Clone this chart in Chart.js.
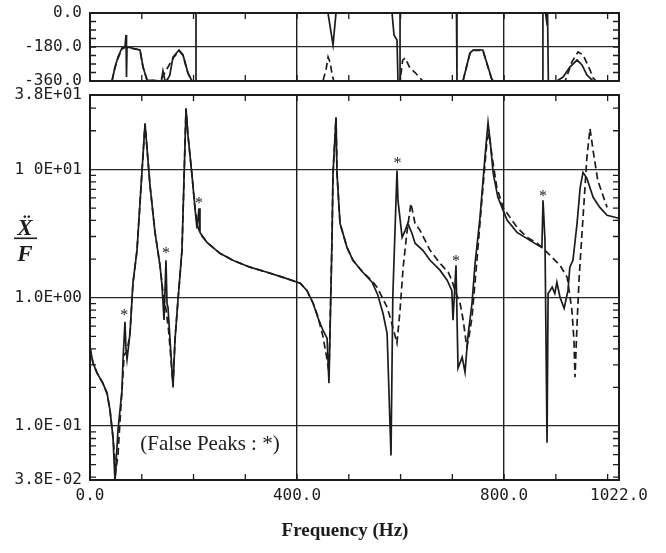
<!DOCTYPE html>
<html>
<head>
<meta charset="utf-8">
<script src="https://cdn.jsdelivr.net/npm/chart.js@4.4.0/dist/chart.umd.min.js"></script>
<style>
  html, body { margin: 0; padding: 0; background: #fff; }
  #wrap { position: relative; width: 666px; height: 553px; }
  canvas { position: absolute; left: 0; top: 0; }
</style>
</head>
<body>
<div id="wrap">
  <canvas id="magChart" width="666" height="553"></canvas>
  <canvas id="phaseChart" width="666" height="92"></canvas>
</div>
<script>
// --- Données ---
// Module (solide = mesure, tirets = recalage)
const magHz = [0, 5.8, 13.5, 25, 33, 38.6, 44.4, 48.3, 54.1, 61.8, 63.8, 67.6, 69.5, 71.5, 77.3, 83, 90.8, 106.3, 115.9, 125.6,
  135.2, 139.1, 143, 146.8, 148.8, 150.7, 160.4, 164.2, 170, 177.7, 185.5, 189.3, 197.1, 202.9, 206.7, 210.6, 212.5, 226, 251, 276,
  309, 342, 373, 406, 419, 431, 440, 450, 458, 461.7, 467.5, 469.5, 475.3, 477.2, 483, 496.5, 508, 527, 545, 556,
  566, 574, 581.5, 585, 593.1, 595, 603, 609, 614, 622, 628, 643, 657, 676, 690, 699, 701.3, 707.1, 711, 719,
  724.5, 730, 738, 744, 753.5, 763, 769, 773, 779, 788, 806, 825, 850, 865.5, 873, 875.2, 879, 883, 885, 893,
  898, 902, 908, 916, 923.5, 927, 933, 941, 947, 952.5, 960, 972, 985, 999, 1022];
const magSolid = [0.41, 0.31, 0.26, 0.215, 0.18, 0.133, 0.082, 0.037, 0.093, 0.19, 0.33, 0.65, 0.4, 0.33, 0.53, 1.3, 2.34, 22.8, 7.5, 3.23,
  1.79, 1.25, 0.67, 1.96, 0.9, 0.84, 0.2, 0.47, 0.96, 2.34, 29.8, 18.4, 8.98, 4.97, 3.47, 4.97, 3.23, 2.7, 2.22, 1.96,
  1.73, 1.58, 1.44, 1.3, 1.14, 0.906, 0.705, 0.558, 0.484, 0.216, 2.8, 9.31, 25.4, 9.31, 3.8, 2.47, 1.96, 1.58, 1.32, 1.05,
  0.757, 0.529, 0.059, 1.01, 9.82, 5.74, 2.96, 3.35, 3.8, 3.18, 2.66, 2.34, 1.96, 1.64, 1.37, 1.14, 0.668, 1.79, 0.283, 0.344,
  0.263, 0.493, 0.906, 1.86, 4.23, 12.4, 23.2, 16.8, 9.31, 6.06, 4.01, 3.23, 2.8, 2.56, 2.47, 5.74, 2.8, 0.074, 1.08, 1.21,
  1.08, 1.32, 1.01, 0.829, 1.14, 1.73, 1.96, 3.8, 7.24, 9.48, 8.51, 6.06, 5.06, 4.39, 4.16];

const magDashHz = [0, 5.8, 13.5, 25, 33, 38.6, 44.4, 50, 54.1, 58, 61.8, 66, 71.5, 77.3, 83, 90.8, 106.3, 115.9, 125.6, 135.2,
  141, 147, 152, 160.4, 164.2, 170, 177.7, 185.5, 189.3, 197.1, 202.9, 208, 214, 226, 251, 276, 309, 342, 373, 406,
  419, 431, 440, 450, 458, 461.7, 467.5, 469.5, 475.3, 477.2, 483, 496.5, 508, 527, 545, 554.5, 574, 583, 593, 599,
  605, 612, 620, 628, 637.6, 657, 676, 692, 699, 705, 715, 721, 728, 732, 738, 748, 757, 767, 771, 777,
  786, 798, 825, 844, 864, 879, 885, 908, 922, 931, 935, 937, 941, 945, 952.5, 960, 966, 972, 981, 999];
const magDashed = [0.41, 0.31, 0.26, 0.215, 0.18, 0.133, 0.082, 0.045, 0.06, 0.11, 0.19, 0.36, 0.38, 0.53, 1.3, 2.34, 22.8, 7.5, 3.23, 1.79,
  1.1, 0.8, 0.55, 0.21, 0.47, 0.96, 2.34, 29.8, 18.4, 8.98, 4.97, 3.6, 3.1, 2.7, 2.22, 1.96, 1.73, 1.58, 1.44, 1.3,
  1.14, 0.906, 0.72, 0.5, 0.33, 0.26, 2.8, 9.31, 25.4, 9.31, 3.8, 2.47, 1.96, 1.58, 1.35, 1.21, 0.844, 0.633, 0.443, 0.8,
  1.73, 3.16, 5.43, 3.8, 3.35, 2.34, 1.86, 1.58, 1.37, 1.14, 0.906, 0.668, 0.412, 0.49, 0.705, 2.06, 5.74, 16.8, 19.0, 12.4,
  7.24, 5.06, 3.54, 2.96, 2.66, 2.34, 2.22, 1.79, 1.44, 0.8, 0.467, 0.24, 0.633, 1.44, 4.23, 12.4, 20.8, 14.0, 8.2, 5.06];

// Phase (degrés)
const phaseHz = [0, 42.5, 48.3, 54.1, 61.8, 67.6, 69.6, 70.5, 71.5, 96.6, 102.4, 110.1, 135.2, 138, 141, 145, 148.8, 154, 160.4, 172,
  179.7, 189.3, 197, 204.8, 204.8, 459.8, 469.5, 475.3, 583.5, 587.3, 593.1, 595, 599, 599, 708, 709, 720.6, 734, 740, 759,
  769, 776.7, 782.5, 875, 875, 880, 882, 884, 885.5, 902, 914, 927, 941, 950.5, 960, 972, 1022];
const phaseSolid = [-360, -360, -286, -233, -185, -180, -116, -339, -180, -196, -286, -355, -360, -360, -307, -360, -355, -330, -233, -196,
  -222, -318, -360, -360, 0, 0, -169, 0, 0, -116, -143, -360, -360, 0, 0, -360, -360, -212, -196, -196,
  -286, -355, -360, -360, 0, 0, -40, 0, -360, -360, -339, -286, -249, -275, -328, -360, -360];

const phaseDashHz = [0, 42.5, 48.3, 54.1, 61.8, 67.6, 71.5, 96.6, 102.4, 110.1, 135.2, 160.4, 172, 179.7, 189.3, 197, 450, 456, 460, 464,
  468, 471, 599, 604, 609, 618, 628, 637.6, 643, 720.6, 734, 740, 759, 769, 776.7, 782.5, 918, 931, 943, 952.5,
  960, 966, 972, 978, 1000];
const phaseDashed = [-360, -360, -290, -240, -190, -182, -182, -196, -286, -355, -360, -240, -200, -225, -320, -360, -360, -300, -233, -262,
  -330, -360, -360, -250, -238, -291, -315, -344, -360, -360, -215, -198, -198, -288, -355, -360, -360, -259, -206, -222,
  -265, -302, -344, -360, -360];

// Axes
const xLabelHz = [0, 400, 800, 1022];
const xTickLabels = ['0.0', '400.0', '800.0', '1022.0'];
const xGridHz = [400, 800];
const xMinorHz = [100, 200, 300, 400, 500, 600, 700, 800, 900, 1000];
const magTickVals = [0.038, 0.1, 1, 10, 38];
const magTickLabels = ['3.8E-02', '1.0E-01', '1.0E+00', '1 0E+01', '3.8E+01'];
const magGridVals = [0.1, 1, 10];
const phaseTickVals = [0, -180, -360];
const phaseTickLabels = ['0.0', '-180.0', '-360.0'];
const phaseMinor = [-45, -90, -135, -180, -225, -270, -315];

// Faux pics (*)
const falsePeakHz = [66, 146.8, 210.6, 594, 707.1, 875.2];
const falsePeakMag = [0.785, 2.38, 5.84, 11.96, 2.07, 6.62];

const INK = '#1c1c1c';
const monoFont = { family: "'DejaVu Sans Mono', monospace", size: 16 };

const toPts = (xs, ys) => xs.map((x, i) => ({ x: x, y: ys[i] }));

let magMinor = [];
[0.01, 0.1, 1, 10].forEach(d => {
  for (let k = 2; k <= 9; k++) {
    const v = +(d * k).toPrecision(3);
    if (v > 0.038 && v < 38) magMinor.push(v);
  }
});

// Cadre + graduations intérieures
const framePlugin = {
  id: 'frame',
  afterDatasetsDraw(chart, args, opts) {
    const { ctx, chartArea: a, scales } = chart;
    ctx.save();
    ctx.strokeStyle = INK;
    ctx.lineWidth = 1.3;
    ctx.beginPath();
    opts.xTicks.forEach(v => {
      const x = scales.x.getPixelForValue(v);
      ctx.moveTo(x, a.top); ctx.lineTo(x, a.top + 6);
      ctx.moveTo(x, a.bottom); ctx.lineTo(x, a.bottom - 6);
    });
    opts.yTicks.forEach(v => {
      const y = scales.y.getPixelForValue(v);
      ctx.moveTo(a.left, y); ctx.lineTo(a.left + 6, y);
      ctx.moveTo(a.right, y); ctx.lineTo(a.right - 6, y);
    });
    ctx.stroke();
    ctx.lineWidth = 2;
    ctx.strokeRect(a.left, a.top, a.right - a.left, a.bottom - a.top);
    ctx.restore();
  }
};

// Textes : astérisques, note, titres
const textPlugin = {
  id: 'texts',
  afterDraw(chart) {
    const { ctx, scales } = chart;
    ctx.save();
    ctx.fillStyle = INK;
    ctx.textAlign = 'center';
    ctx.font = "16px 'Liberation Serif', serif";
    falsePeakHz.forEach((f, i) => {
      ctx.fillText('*', scales.x.getPixelForValue(f), scales.y.getPixelForValue(falsePeakMag[i]) + 9);
    });
    ctx.font = "21px 'Liberation Serif', serif";
    ctx.fillText('(False Peaks : *)', 210, 450);
    ctx.font = "bold 19px 'Liberation Serif', serif";
    ctx.fillText('Frequency (Hz)', 345, 536);
    // Ẍ / F
    ctx.font = "bold italic 23px 'Liberation Serif', 'DejaVu Serif', serif";
    ctx.fillText('Ẍ', 25, 235);
    ctx.fillRect(14, 237.5, 23, 1.6);
    ctx.fillText('F', 25, 261);
    ctx.restore();
  }
};

// Graphique du module
new Chart(document.getElementById('magChart'), {
  type: 'line',
  data: {
    datasets: [
      { data: toPts(magHz, magSolid), borderColor: INK, borderWidth: 1.7 },
      { data: toPts(magDashHz, magDashed), borderColor: INK, borderWidth: 1.7, borderDash: [7, 4] }
    ]
  },
  options: {
    responsive: false,
    animation: false,
    events: [],
    layout: { padding: { left: 0, top: 95, right: 47, bottom: 0 } },
    elements: { point: { radius: 0 }, line: { tension: 0 } },
    plugins: {
      legend: { display: false },
      tooltip: { enabled: false },
      frame: { xTicks: xMinorHz, yTicks: magMinor }
    },
    scales: {
      x: {
        type: 'linear', min: 0, max: 1022,
        afterBuildTicks: s => { s.ticks = xLabelHz.map(v => ({ value: v })); },
        afterFit: s => { s.height = 73; s.paddingLeft = 0; s.paddingRight = 0; },
        ticks: { callback: (v, i) => xTickLabels[i], font: monoFont, color: INK, padding: 6, maxRotation: 0, autoSkip: false },
        grid: {
          drawTicks: false,
          color: c => (c.tick && xGridHz.includes(c.tick.value)) ? INK : 'transparent',
          lineWidth: 1.4
        },
        border: { display: false }
      },
      y: {
        type: 'logarithmic', min: 0.038, max: 38,
        afterBuildTicks: s => { s.ticks = magTickVals.map(v => ({ value: v })); },
        afterFit: s => { s.width = 90; s.paddingTop = 0; s.paddingBottom = 0; },
        ticks: { callback: (v, i) => magTickLabels[i], font: monoFont, color: INK, padding: 8, autoSkip: false },
        grid: {
          drawTicks: false,
          color: c => (c.tick && magGridVals.includes(c.tick.value)) ? '#2a2a2a' : 'transparent',
          lineWidth: 1.2
        },
        border: { display: false }
      }
    }
  },
  plugins: [framePlugin, textPlugin]
});

// Graphique de la phase
new Chart(document.getElementById('phaseChart'), {
  type: 'line',
  data: {
    datasets: [
      { data: toPts(phaseHz, phaseSolid), borderColor: INK, borderWidth: 1.7 },
      { data: toPts(phaseDashHz, phaseDashed), borderColor: INK, borderWidth: 1.7, borderDash: [7, 4] }
    ]
  },
  options: {
    responsive: false,
    animation: false,
    events: [],
    layout: { padding: { left: 0, top: 13, right: 47, bottom: 0 } },
    elements: { point: { radius: 0 }, line: { tension: 0 } },
    plugins: {
      legend: { display: false },
      tooltip: { enabled: false },
      frame: { xTicks: xMinorHz, yTicks: phaseMinor }
    },
    scales: {
      x: {
        type: 'linear', min: 0, max: 1022,
        afterBuildTicks: s => { s.ticks = xLabelHz.map(v => ({ value: v })); },
        afterFit: s => { s.height = 11; s.paddingLeft = 0; s.paddingRight = 0; },
        ticks: { display: false },
        grid: {
          drawTicks: false,
          color: c => (c.tick && xGridHz.includes(c.tick.value)) ? INK : 'transparent',
          lineWidth: 1.4
        },
        border: { display: false }
      },
      y: {
        type: 'linear', min: -360, max: 0,
        afterBuildTicks: s => { s.ticks = phaseTickVals.map(v => ({ value: v })); },
        afterFit: s => { s.width = 90; s.paddingTop = 0; s.paddingBottom = 0; },
        ticks: { callback: (v, i) => phaseTickLabels[i], font: monoFont, color: INK, padding: 8, autoSkip: false },
        grid: {
          drawTicks: false,
          color: c => (c.tick && c.tick.value === -180) ? '#2a2a2a' : 'transparent',
          lineWidth: 1.2
        },
        border: { display: false }
      }
    }
  },
  plugins: [framePlugin]
});
</script>
</body>
</html>
